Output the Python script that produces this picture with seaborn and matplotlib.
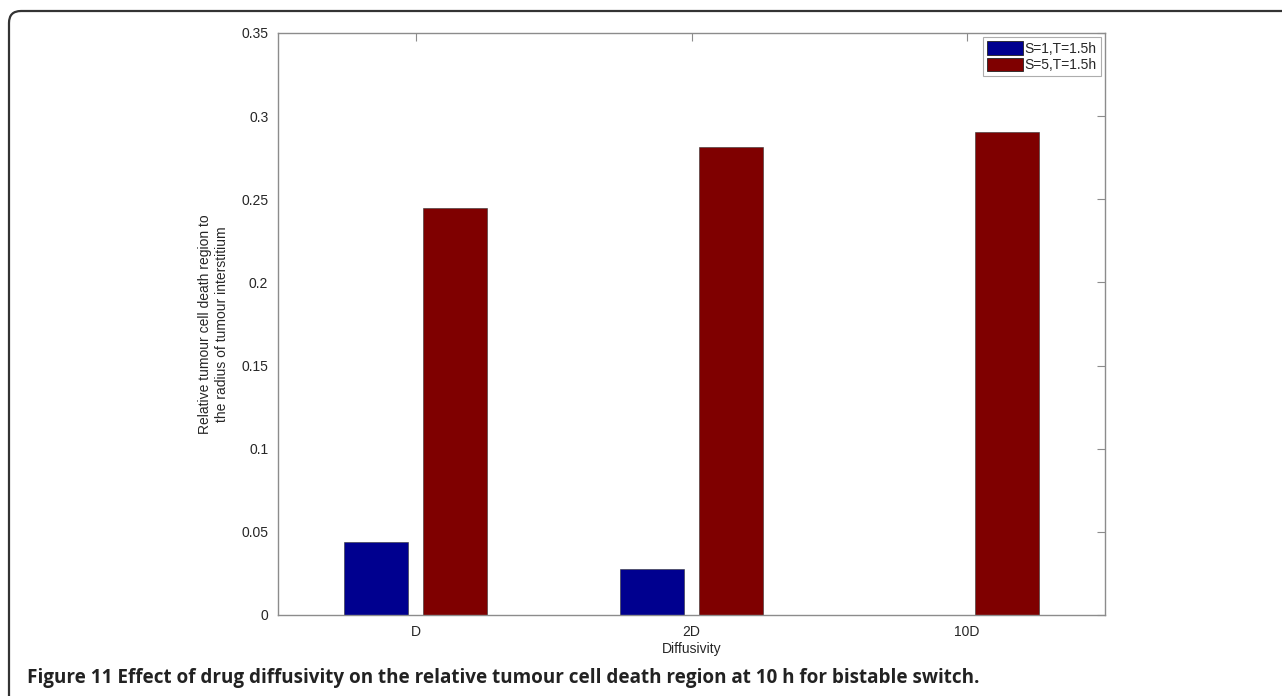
import matplotlib
matplotlib.use("Agg")
import matplotlib.pyplot as plt
from matplotlib.patches import FancyBboxPatch
from matplotlib.transforms import IdentityTransform
import pandas as pd
import seaborn as sns

# data
categories = ["D", "2D", "10D"]
s1_values = [0.044, 0.0276, 0.0]      # S=1,T=1.5h
s5_values = [0.245, 0.2815, 0.2902]   # S=5,T=1.5h
series_names = ["S=1,T=1.5h", "S=5,T=1.5h"]
y_ticks = [0, 0.05, 0.1, 0.15, 0.2, 0.25, 0.3, 0.35]
y_tick_labels = ["0", "0.05", "0.1", "0.15", "0.2", "0.25", "0.3", "0.35"]

df = pd.DataFrame({
    "Diffusivity": categories * 2,
    "value": s1_values + s5_values,
    "series": [series_names[0]] * 3 + [series_names[1]] * 3,
})

sns.set_style("white")
plt.rcParams["font.family"] = ["Liberation Sans", "DejaVu Sans"]

fig = plt.figure(figsize=(12.82, 6.96), dpi=100)
ax = fig.add_axes([278 / 1282, 81 / 696, 827 / 1282, 582 / 696])

sns.barplot(
    data=df, x="Diffusivity", y="value", hue="series",
    palette=["#00008f", "#7f0000"], saturation=1,
    width=0.572, gap=0.19,
    edgecolor="#333333", linewidth=0.4,
    ax=ax,
)

ax.set_xlim(-0.5, 2.5)
ax.set_ylim(0, 0.35)
ax.set_yticks(y_ticks)
ax.set_yticklabels(y_tick_labels)
ax.set_xlabel("Diffusivity", fontsize=10, labelpad=2)
ax.set_ylabel("Relative tumour cell death region to\nthe radius of tumour interstitium",
              fontsize=10, labelpad=9)

for side in ["left", "right", "top", "bottom"]:
    ax.spines[side].set_visible(True)
    ax.spines[side].set_color("#8c8c8c")
    ax.spines[side].set_linewidth(1.0)
ax.tick_params(direction="in", top=True, right=True, length=6, width=0.8,
               color="#8c8c8c", labelsize=10, pad=7)

leg = ax.legend(loc="upper right", fontsize=10, frameon=True, fancybox=False,
                edgecolor="#999999", borderaxespad=0.3, handlelength=2.6,
                handleheight=1.1, handletextpad=0.1, borderpad=0.3,
                labelspacing=0.15)
leg.get_frame().set_linewidth(0.8)
for h in leg.legend_handles:
    h.set_edgecolor("#222222")
    h.set_linewidth(0.6)

# caption
fig.text(27 / 1282, 1 - 678 / 696,
         "Figure 11 Effect of drug diffusivity on the relative tumour cell death region at 10 h for bistable switch.",
         fontsize=13.6, fontweight="bold", family=["Open Sans", "DejaVu Sans"],
         color="#222222", va="center", ha="left")

# rounded border box (runs off the right and bottom edges)
border = FancyBboxPatch((9, -60), 1400, 685 + 60, boxstyle="round,pad=0,rounding_size=12",
                        transform=IdentityTransform(), fill=False,
                        edgecolor="#333333", linewidth=1.6)
fig.patches.append(border)

fig.savefig("out.png", dpi=100)
